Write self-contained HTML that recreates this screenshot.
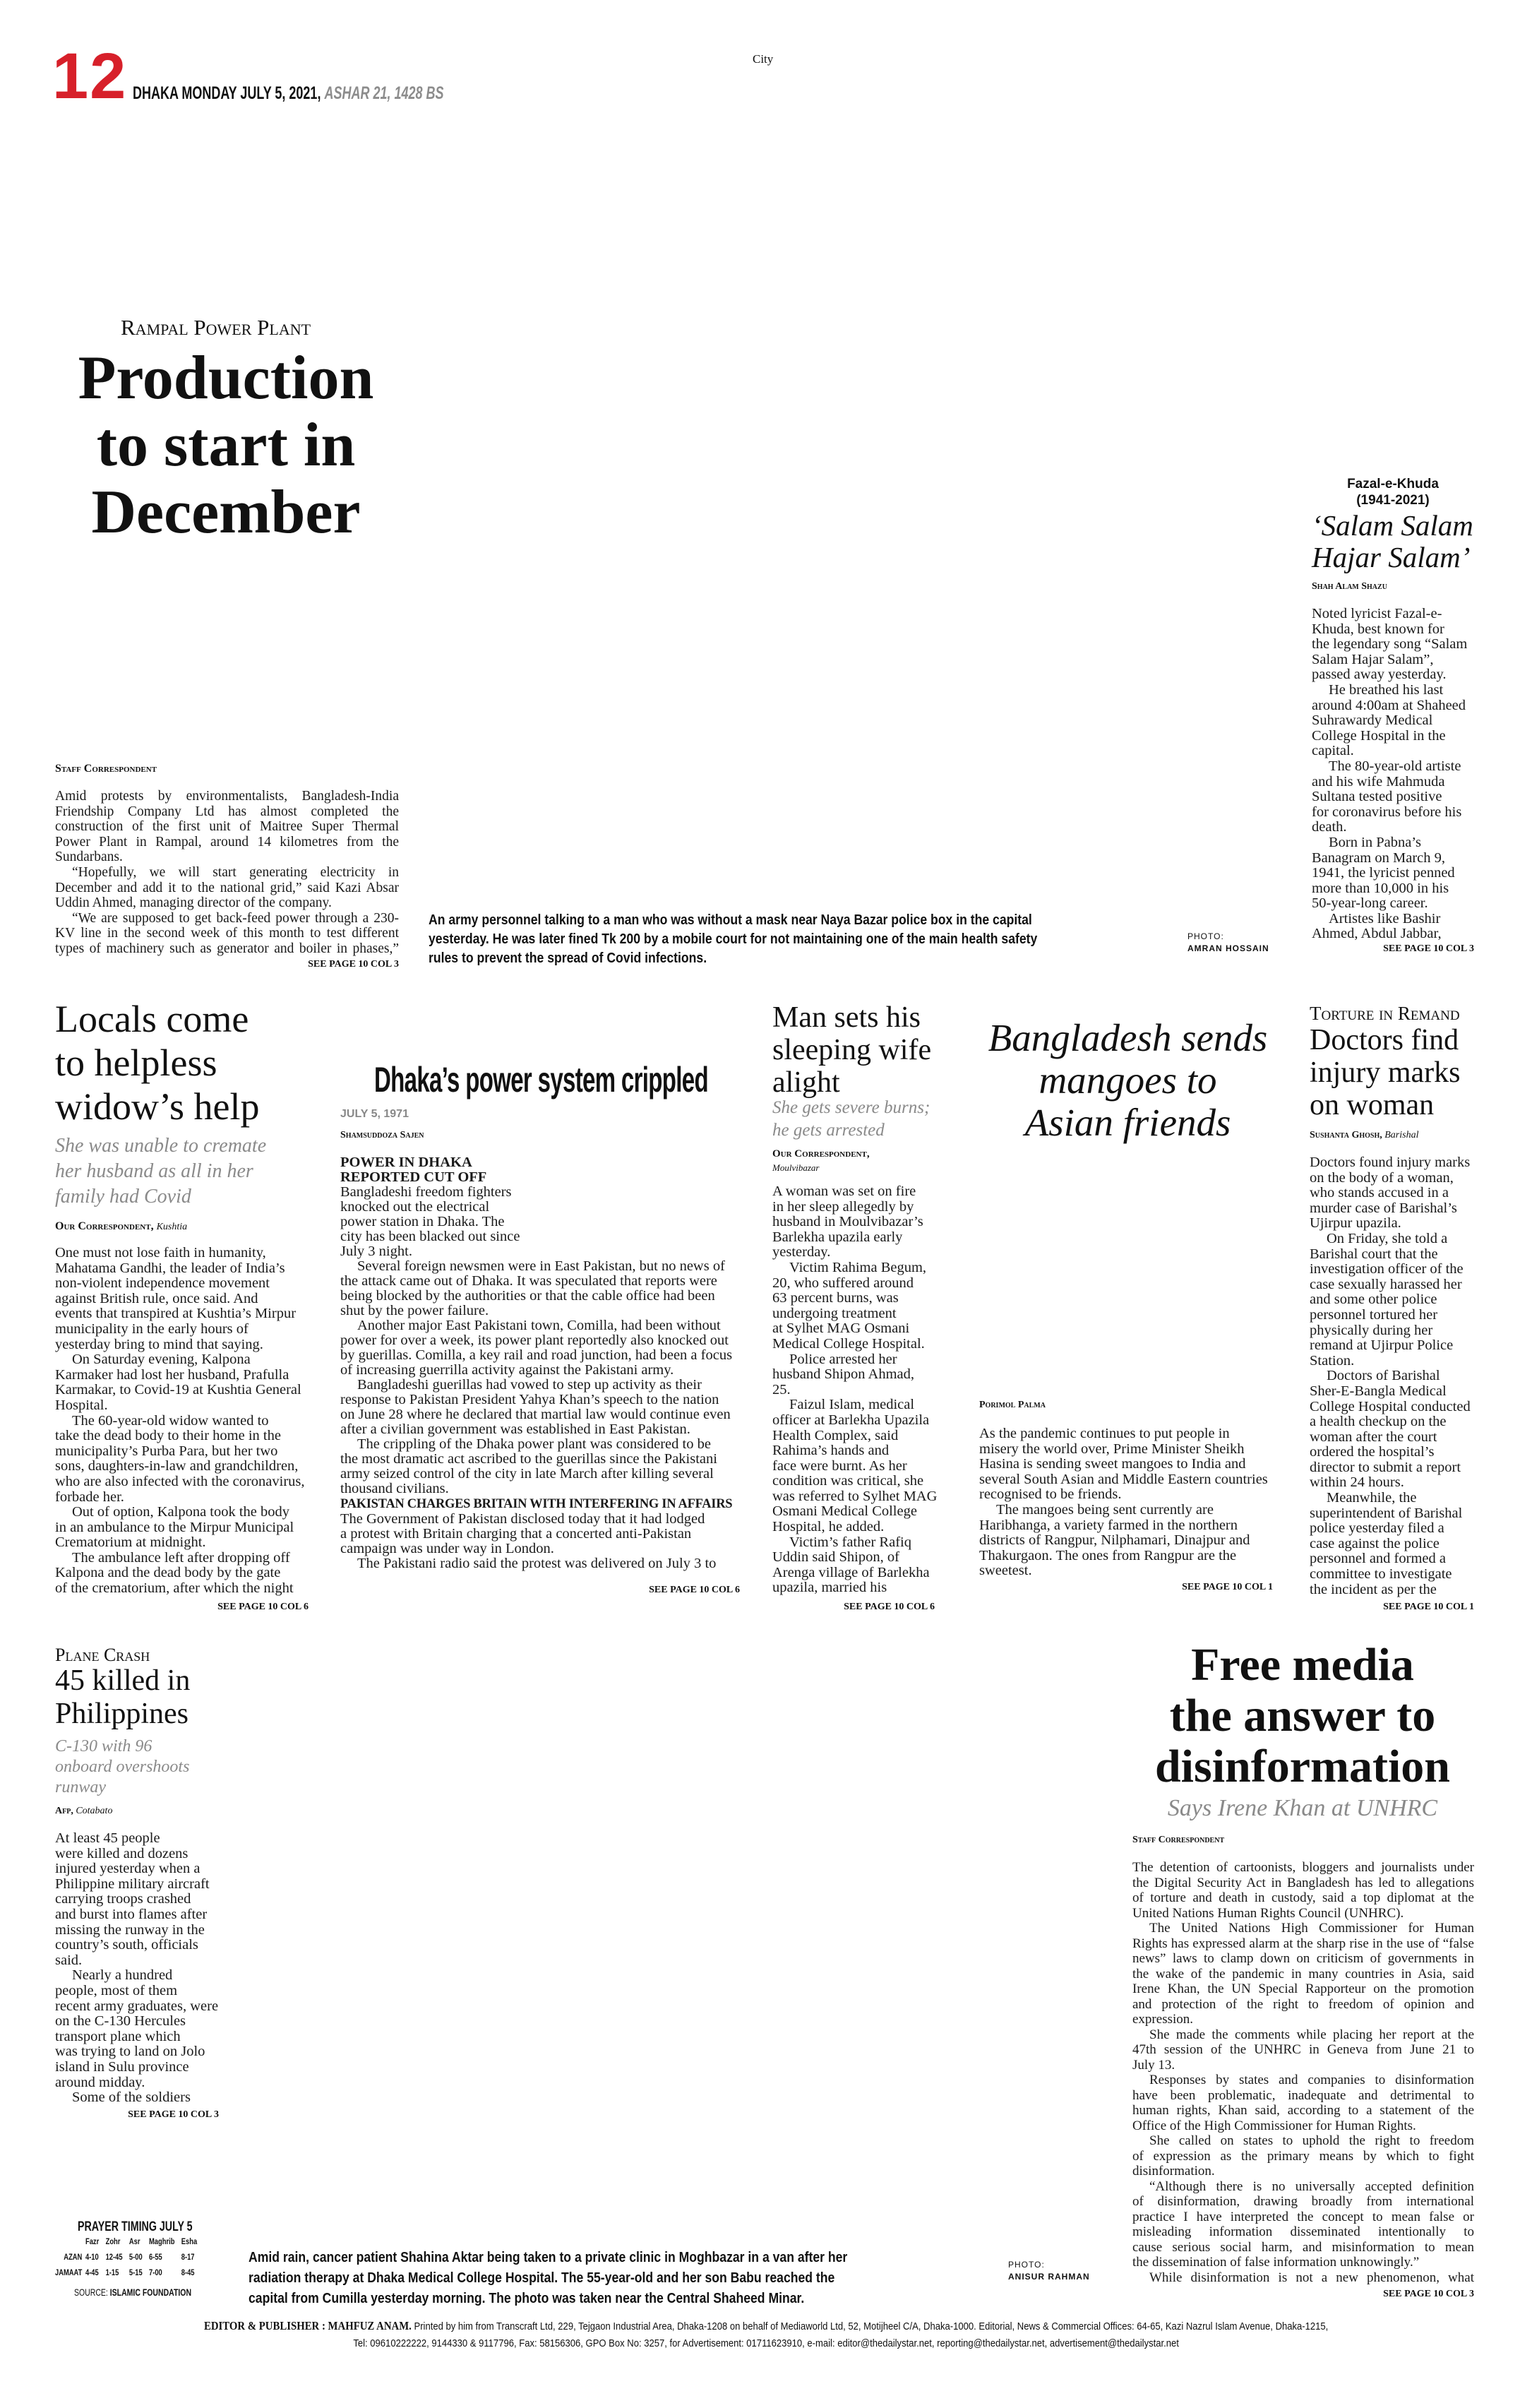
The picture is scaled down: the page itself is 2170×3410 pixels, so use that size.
<!DOCTYPE html>
<html><head><meta charset="utf-8">
<style>
*{margin:0;padding:0;box-sizing:border-box}
body{width:2170px;height:3410px;background:#fff;position:relative;overflow:hidden;font-family:"Liberation Serif",serif;color:#111}
.a{position:absolute}
.b{position:absolute;font:20.5px/21.6px "Liberation Serif",serif;color:#1a1a1a}
.b div{white-space:nowrap}
.b .j{text-align:justify;text-align-last:justify;white-space:normal}
.i{text-indent:24px}
.sc{font-variant:small-caps;font-weight:bold;font-size:16px;white-space:nowrap;position:absolute;font-family:"Liberation Serif",serif}
.sc i{font-variant:normal;font-weight:normal;font-size:14px}
.see{position:absolute;font:bold 14px "Liberation Serif",serif;white-space:nowrap;text-align:right}
.cond{position:absolute;font-family:"Liberation Sans",sans-serif;font-weight:bold;transform-origin:0 0;white-space:nowrap}
.hd{position:absolute;white-space:nowrap;font-family:"Liberation Serif",serif}
.sub{position:absolute;white-space:nowrap;font-family:"Liberation Serif",serif;font-style:italic;color:#8a8a8a}
</style></head><body>

<div class="a" style="left:74px;top:62px;font:bold 92px/1 'Liberation Sans',sans-serif;color:#d7202a;letter-spacing:2px">12</div>
<div class="cond" style="left:188px;top:118px;font-size:25px;transform:scaleX(.72)">DHAKA MONDAY JULY 5, 2021, <span style="color:#8c8c8c;font-style:italic">ASHAR 21, 1428 BS</span></div>
<div class="a" style="left:1066px;top:74px;font:17px 'Liberation Serif',serif">City</div>

<!-- Rampal -->
<div class="hd" style="left:171px;top:446px;font-size:31px;font-variant:small-caps">Rampal Power Plant</div>
<div class="hd" style="left:60px;top:488px;width:520px;text-align:center;font-weight:bold;font-size:88px;line-height:95px">Production<br>to start in<br>December</div>
<div class="sc" style="left:78px;top:1080px">Staff Correspondent</div>
<div class="b" style="left:78px;top:1117px;width:487px;font-size:19.5px">
<div class="j">Amid protests by environmentalists, Bangladesh-India</div>
<div class="j">Friendship Company Ltd has almost completed the</div>
<div class="j">construction of the first unit of Maitree Super Thermal</div>
<div class="j">Power Plant in Rampal, around 14 kilometres from the</div>
<div>Sundarbans.</div>
<div class="j i">“Hopefully, we will start generating electricity in</div>
<div class="j">December and add it to the national grid,” said Kazi Absar</div>
<div>Uddin Ahmed, managing director of the company.</div>
<div class="j i">“We are supposed to get back-feed power through a 230-</div>
<div class="j">KV line in the second week of this month to test different</div>
<div class="j">types of machinery such as generator and boiler in phases,”</div>
</div>
<div class="see" style="right:1605px;top:1358px">SEE PAGE 10 COL 3</div>

<div class="cond" style="left:607px;top:1290px;font-size:20px;line-height:27px;transform:scaleX(.88)">An army personnel talking to a man who was without a mask near Naya Bazar police box in the capital<br>yesterday. He was later fined Tk 200 by a mobile court for not maintaining one of the main health safety<br>rules to prevent the spread of Covid infections.</div>
<div class="a" style="left:1682px;top:1318px;font:12px/17px 'Liberation Sans',sans-serif;letter-spacing:1px">PHOTO:<br><b>AMRAN HOSSAIN</b></div>

<!-- Fazal -->
<div class="a" style="left:1858px;top:674px;width:230px;text-align:center;font:bold 19px/23px 'Liberation Sans',sans-serif">Fazal-e-Khuda<br>(1941-2021)</div>
<div class="hd" style="left:1858px;top:722px;font-style:italic;font-size:41px;line-height:45px">‘Salam Salam<br>Hajar Salam’</div>
<div class="sc" style="left:1858px;top:823px;font-size:14px">Shah Alam Shazu</div>
<div class="b" style="left:1858px;top:859px">
<div>Noted lyricist Fazal-e-</div><div>Khuda, best known for</div><div>the legendary song “Salam</div><div>Salam Hajar Salam”,</div><div>passed away yesterday.</div>
<div class="i">He breathed his last</div><div>around 4:00am at Shaheed</div><div>Suhrawardy Medical</div><div>College Hospital in the</div><div>capital.</div>
<div class="i">The 80-year-old artiste</div><div>and his wife Mahmuda</div><div>Sultana tested positive</div><div>for coronavirus before his</div><div>death.</div>
<div class="i">Born in Pabna’s</div><div>Banagram on March 9,</div><div>1941, the lyricist penned</div><div>more than 10,000 in his</div><div>50-year-long career.</div>
<div class="i">Artistes like Bashir</div><div>Ahmed, Abdul Jabbar,</div>
</div>
<div class="see" style="right:82px;top:1336px">SEE PAGE 10 COL 3</div>

<!-- Locals -->
<div class="hd" style="left:78px;top:1412px;font-size:54px;line-height:62px">Locals come<br>to helpless<br>widow’s help</div>
<div class="sub" style="left:78px;top:1605px;font-size:28px;line-height:36px">She was unable to cremate<br>her husband as all in her<br>family had Covid</div>
<div class="sc" style="left:78px;top:1728px">Our Correspondent, <i>Kushtia</i></div>
<div class="b" style="left:78px;top:1764px">
<div>One must not lose faith in humanity,</div><div>Mahatama Gandhi, the leader of India’s</div><div>non-violent independence movement</div><div>against British rule, once said. And</div><div>events that transpired at Kushtia’s Mirpur</div><div>municipality in the early hours of</div><div>yesterday bring to mind that saying.</div>
<div class="i">On Saturday evening, Kalpona</div><div>Karmaker had lost her husband, Prafulla</div><div>Karmakar, to Covid-19 at Kushtia General</div><div>Hospital.</div>
<div class="i">The 60-year-old widow wanted to</div><div>take the dead body to their home in the</div><div>municipality’s Purba Para, but her two</div><div>sons, daughters-in-law and grandchildren,</div><div>who are also infected with the coronavirus,</div><div>forbade her.</div>
<div class="i">Out of option, Kalpona took the body</div><div>in an ambulance to the Mirpur Municipal</div><div>Crematorium at midnight.</div>
<div class="i">The ambulance left after dropping off</div><div>Kalpona and the dead body by the gate</div><div>of the crematorium, after which the night</div>
</div>
<div class="see" style="right:1733px;top:2268px">SEE PAGE 10 COL 6</div>

<!-- Dhaka's power -->
<div class="cond" style="left:530px;top:1500px;font-size:50px;transform:scaleX(.66);letter-spacing:-1px">Dhaka’s power system crippled</div>
<div class="a" style="left:482px;top:1569px;font:bold 16px 'Liberation Sans',sans-serif;color:#888">JULY 5, 1971</div>
<div class="sc" style="left:482px;top:1600px;font-size:14px">Shamsuddoza Sajen</div>
<div class="b" style="left:482px;top:1636px;line-height:21px">
<div><b>POWER IN DHAKA</b></div><div><b>REPORTED CUT OFF</b></div>
<div>Bangladeshi freedom fighters</div><div>knocked out the electrical</div><div>power station in Dhaka. The</div><div>city has been blacked out since</div><div>July 3 night.</div>
<div class="i">Several foreign newsmen were in East Pakistan, but no news of</div><div>the attack came out of Dhaka. It was speculated that reports were</div><div>being blocked by the authorities or that the cable office had been</div><div>shut by the power failure.</div>
<div class="i">Another major East Pakistani town, Comilla, had been without</div><div>power for over a week, its power plant reportedly also knocked out</div><div>by guerillas. Comilla, a key rail and road junction, had been a focus</div><div>of increasing guerrilla activity against the Pakistani army.</div>
<div class="i">Bangladeshi guerillas had vowed to step up activity as their</div><div>response to Pakistan President Yahya Khan’s speech to the nation</div><div>on June 28 where he declared that martial law would continue even</div><div>after a civilian government was established in East Pakistan.</div>
<div class="i">The crippling of the Dhaka power plant was considered to be</div><div>the most dramatic act ascribed to the guerillas since the Pakistani</div><div>army seized control of the city in late March after killing several</div><div>thousand civilians.</div>
<div><b style="font-size:18.5px;letter-spacing:-.3px">PAKISTAN CHARGES BRITAIN WITH INTERFERING IN AFFAIRS</b></div>
<div>The Government of Pakistan disclosed today that it had lodged</div><div>a protest with Britain charging that a concerted anti-Pakistan</div><div>campaign was under way in London.</div>
<div class="i">The Pakistani radio said the protest was delivered on July 3 to</div>
</div>
<div class="see" style="right:1122px;top:2244px">SEE PAGE 10 COL 6</div>

<!-- Man sets -->
<div class="hd" style="left:1094px;top:1418px;font-size:42px;line-height:46px">Man sets his<br>sleeping wife<br>alight</div>
<div class="sub" style="left:1094px;top:1553px;font-size:25px;line-height:32px">She gets severe burns;<br>he gets arrested</div>
<div class="sc" style="left:1094px;top:1626px;font-size:15px">Our Correspondent,</div>
<div class="a" style="left:1094px;top:1646px;font:italic 13px 'Liberation Serif',serif">Moulvibazar</div>
<div class="b" style="left:1094px;top:1677px">
<div>A woman was set on fire</div><div>in her sleep allegedly by</div><div>husband in Moulvibazar’s</div><div>Barlekha upazila early</div><div>yesterday.</div>
<div class="i">Victim Rahima Begum,</div><div>20, who suffered around</div><div>63 percent burns, was</div><div>undergoing treatment</div><div>at Sylhet MAG Osmani</div><div>Medical College Hospital.</div>
<div class="i">Police arrested her</div><div>husband Shipon Ahmad,</div><div>25.</div>
<div class="i">Faizul Islam, medical</div><div>officer at Barlekha Upazila</div><div>Health Complex, said</div><div>Rahima’s hands and</div><div>face were burnt. As her</div><div>condition was critical, she</div><div>was referred to Sylhet MAG</div><div>Osmani Medical College</div><div>Hospital, he added.</div>
<div class="i">Victim’s father Rafiq</div><div>Uddin said Shipon, of</div><div>Arenga village of Barlekha</div><div>upazila, married his</div>
</div>
<div class="see" style="right:846px;top:2268px">SEE PAGE 10 COL 6</div>

<!-- Mangoes -->
<div class="hd" style="left:1380px;top:1440px;width:435px;text-align:center;font-style:italic;font-size:55px;line-height:60px">Bangladesh sends<br>mangoes to<br>Asian friends</div>
<div class="sc" style="left:1387px;top:1982px;font-size:14px">Porimol Palma</div>
<div class="b" style="left:1387px;top:2020px">
<div>As the pandemic continues to put people in</div><div>misery the world over, Prime Minister Sheikh</div><div>Hasina is sending sweet mangoes to India and</div><div>several South Asian and Middle Eastern countries</div><div>recognised to be friends.</div>
<div class="i">The mangoes being sent currently are</div><div>Haribhanga, a variety farmed in the northern</div><div>districts of Rangpur, Nilphamari, Dinajpur and</div><div>Thakurgaon. The ones from Rangpur are the</div><div>sweetest.</div>
</div>
<div class="see" style="right:367px;top:2240px">SEE PAGE 10 COL 1</div>

<!-- Doctors -->
<div class="hd" style="left:1855px;top:1420px;font-size:27px;font-variant:small-caps">Torture in Remand</div>
<div class="hd" style="left:1855px;top:1450px;font-size:42px;line-height:46px">Doctors find<br>injury marks<br>on woman</div>
<div class="sc" style="left:1855px;top:1600px;font-size:14px">Sushanta Ghosh, <i>Barishal</i></div>
<div class="b" style="left:1855px;top:1636px">
<div>Doctors found injury marks</div><div>on the body of a woman,</div><div>who stands accused in a</div><div>murder case of Barishal’s</div><div>Ujirpur upazila.</div>
<div class="i">On Friday, she told a</div><div>Barishal court that the</div><div>investigation officer of the</div><div>case sexually harassed her</div><div>and some other police</div><div>personnel tortured her</div><div>physically during her</div><div>remand at Ujirpur Police</div><div>Station.</div>
<div class="i">Doctors of Barishal</div><div>Sher-E-Bangla Medical</div><div>College Hospital conducted</div><div>a health checkup on the</div><div>woman after the court</div><div>ordered the hospital’s</div><div>director to submit a report</div><div>within 24 hours.</div>
<div class="i">Meanwhile, the</div><div>superintendent of Barishal</div><div>police yesterday filed a</div><div>case against the police</div><div>personnel and formed a</div><div>committee to investigate</div><div>the incident as per the</div>
</div>
<div class="see" style="right:82px;top:2268px">SEE PAGE 10 COL 1</div>

<!-- Plane crash -->
<div class="hd" style="left:78px;top:2329px;font-size:26px;font-variant:small-caps">Plane Crash</div>
<div class="hd" style="left:78px;top:2357px;font-size:42px;line-height:47px">45 killed in<br>Philippines</div>
<div class="sub" style="left:78px;top:2459px;font-size:24px;line-height:29px">C-130 with 96<br>onboard overshoots<br>runway</div>
<div class="sc" style="left:78px;top:2557px;font-size:14px">Afp, <i>Cotabato</i></div>
<div class="b" style="left:78px;top:2593px">
<div>At least 45 people</div><div>were killed and dozens</div><div>injured yesterday when a</div><div>Philippine military aircraft</div><div>carrying troops crashed</div><div>and burst into flames after</div><div>missing the runway in the</div><div>country’s south, officials</div><div>said.</div>
<div class="i">Nearly a hundred</div><div>people, most of them</div><div>recent army graduates, were</div><div>on the C-130 Hercules</div><div>transport plane which</div><div>was trying to land on Jolo</div><div>island in Sulu province</div><div>around midday.</div>
<div class="i">Some of the soldiers</div>
</div>
<div class="see" style="right:1860px;top:2987px">SEE PAGE 10 COL 3</div>

<!-- Free media -->
<div class="hd" style="left:1600px;top:2322px;width:490px;text-align:center;font-weight:bold;font-size:66px;line-height:72px">Free media<br>the answer to<br>disinformation</div>
<div class="sub" style="left:1600px;top:2542px;width:490px;text-align:center;font-size:34px">Says Irene Khan at UNHRC</div>
<div class="sc" style="left:1604px;top:2598px;font-size:14px">Staff Correspondent</div>
<div class="b" style="left:1604px;top:2634px;width:484px;font-size:19px;line-height:21.5px">
<div class="j">The detention of cartoonists, bloggers and journalists under</div>
<div class="j">the Digital Security Act in Bangladesh has led to allegations</div>
<div class="j">of torture and death in custody, said a top diplomat at the</div>
<div>United Nations Human Rights Council (UNHRC).</div>
<div class="j i">The United Nations High Commissioner for Human</div>
<div class="j">Rights has expressed alarm at the sharp rise in the use of “false</div>
<div class="j">news” laws to clamp down on criticism of governments in</div>
<div class="j">the wake of the pandemic in many countries in Asia, said</div>
<div class="j">Irene Khan, the UN Special Rapporteur on the promotion</div>
<div class="j">and protection of the right to freedom of opinion and</div>
<div>expression.</div>
<div class="j i">She made the comments while placing her report at the</div>
<div class="j">47th session of the UNHRC in Geneva from June 21 to</div>
<div>July 13.</div>
<div class="j i">Responses by states and companies to disinformation</div>
<div class="j">have been problematic, inadequate and detrimental to</div>
<div class="j">human rights, Khan said, according to a statement of the</div>
<div>Office of the High Commissioner for Human Rights.</div>
<div class="j i">She called on states to uphold the right to freedom</div>
<div class="j">of expression as the primary means by which to fight</div>
<div>disinformation.</div>
<div class="j i">“Although there is no universally accepted definition</div>
<div class="j">of disinformation, drawing broadly from international</div>
<div class="j">practice I have interpreted the concept to mean false or</div>
<div class="j">misleading information disseminated intentionally to</div>
<div class="j">cause serious social harm, and misinformation to mean</div>
<div>the dissemination of false information unknowingly.”</div>
<div class="j i">While disinformation is not a new phenomenon, what</div>
</div>
<div class="see" style="right:82px;top:3241px">SEE PAGE 10 COL 3</div>

<!-- Bottom -->
<div class="a" style="left:1428px;top:3199px;font:12px/17px 'Liberation Sans',sans-serif;letter-spacing:1px">PHOTO:<br><b>ANISUR RAHMAN</b></div>
<div class="cond" style="left:110px;top:3143px;font-size:19px;transform:scaleX(.75)">PRAYER TIMING JULY 5</div>
<div class="cond" style="left:78px;top:3163px;font-size:12px;line-height:22px;transform:scaleX(.78)">
<table style="border-collapse:collapse;font:inherit"><tr><td></td><td style="padding:0 6px">Fazr</td><td style="padding:0 6px">Zohr</td><td style="padding:0 6px">Asr</td><td style="padding:0 6px">Maghrib</td><td style="padding:0 6px">Esha</td></tr>
<tr><td style="text-align:right">AZAN</td><td style="padding:0 6px">4-10</td><td style="padding:0 6px">12-45</td><td style="padding:0 6px">5-00</td><td style="padding:0 6px">6-55</td><td style="padding:0 6px">8-17</td></tr>
<tr><td style="text-align:right">JAMAAT</td><td style="padding:0 6px">4-45</td><td style="padding:0 6px">1-15</td><td style="padding:0 6px">5-15</td><td style="padding:0 6px">7-00</td><td style="padding:0 6px">8-45</td></tr></table></div>
<div class="cond" style="left:105px;top:3238px;font-size:14px;transform:scaleX(.75)"><span style="font-weight:normal">SOURCE: </span>ISLAMIC FOUNDATION</div>
<div class="cond" style="left:352px;top:3183px;font-size:20px;line-height:29px;transform:scaleX(.88)">Amid rain, cancer patient Shahina Aktar being taken to a private clinic in Moghbazar in a van after her<br>radiation therapy at Dhaka Medical College Hospital. The 55-year-old and her son Babu reached the<br>capital from Cumilla yesterday morning. The photo was taken near the Central Shaheed Minar.</div>
<div class="a" style="left:0;top:3282px;width:2170px;text-align:center;white-space:nowrap">
<div style="display:inline-block;transform:scaleX(.87);font:15px/24px 'Liberation Sans',sans-serif;white-space:nowrap"><b style="font-family:'Liberation Serif',serif;font-size:17px">EDITOR &amp; PUBLISHER : MAHFUZ ANAM.</b> Printed by him from Transcraft Ltd, 229, Tejgaon Industrial Area, Dhaka-1208 on behalf of Mediaworld Ltd, 52, Motijheel C/A, Dhaka-1000. Editorial, News &amp; Commercial Offices: 64-65, Kazi Nazrul Islam Avenue, Dhaka-1215,<br>Tel: 09610222222, 9144330 &amp; 9117796, Fax: 58156306, GPO Box No: 3257, for Advertisement: 01711623910, e-mail: editor@thedailystar.net, reporting@thedailystar.net, advertisement@thedailystar.net</div>
</div>
</body></html>
